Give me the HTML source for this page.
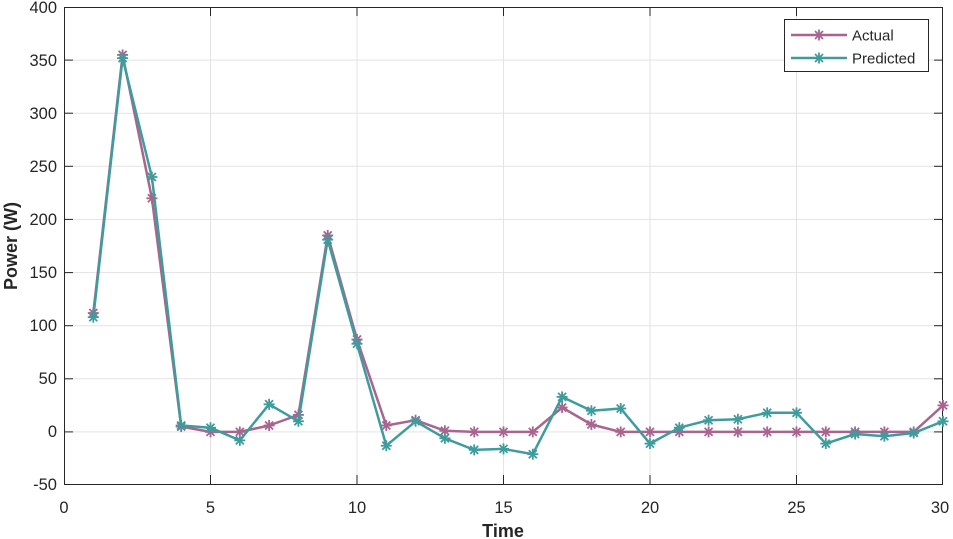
<!DOCTYPE html>
<html><head><meta charset="utf-8"><style>body{margin:0;background:#fff}svg{display:block}text{font-family:"Liberation Sans",Arial,sans-serif;fill:#262626}</style></head><body>
<svg width="953" height="539" viewBox="0 0 953 539">
<defs>
<g id="mA" stroke="#a8658f" stroke-width="1.8"><line x1="-5.5" y1="0" x2="5.5" y2="0"/><line x1="0" y1="-5.5" x2="0" y2="5.5"/><line x1="-4" y1="-4" x2="4" y2="4"/><line x1="-4" y1="4" x2="4" y2="-4"/></g>
<g id="mP" stroke="#3e9c9c" stroke-width="1.8"><line x1="-5.5" y1="0" x2="5.5" y2="0"/><line x1="0" y1="-5.5" x2="0" y2="5.5"/><line x1="-4" y1="-4" x2="4" y2="4"/><line x1="-4" y1="4" x2="4" y2="-4"/></g>
</defs>
<g stroke="#e3e3e3" stroke-width="1">
<line x1="210.5" y1="7" x2="210.5" y2="484"/><line x1="357" y1="7" x2="357" y2="484"/><line x1="503.5" y1="7" x2="503.5" y2="484"/><line x1="650" y1="7" x2="650" y2="484"/><line x1="796.5" y1="7" x2="796.5" y2="484"/>
<line x1="64" y1="60.1" x2="943" y2="60.1"/><line x1="64" y1="113.2" x2="943" y2="113.2"/><line x1="64" y1="166.3" x2="943" y2="166.3"/><line x1="64" y1="219.4" x2="943" y2="219.4"/><line x1="64" y1="272.6" x2="943" y2="272.6"/><line x1="64" y1="325.7" x2="943" y2="325.7"/><line x1="64" y1="378.8" x2="943" y2="378.8"/><line x1="64" y1="431.9" x2="943" y2="431.9"/>
</g>
<rect x="64.5" y="7.5" width="878" height="477" fill="none" stroke="#262626" stroke-width="1"/>
<g stroke="#262626" stroke-width="1">
<line x1="210.5" y1="484" x2="210.5" y2="475"/><line x1="357" y1="484" x2="357" y2="475"/><line x1="503.5" y1="484" x2="503.5" y2="475"/><line x1="650" y1="484" x2="650" y2="475"/><line x1="796.5" y1="484" x2="796.5" y2="475"/>
<line x1="210.5" y1="7" x2="210.5" y2="16"/><line x1="357" y1="7" x2="357" y2="16"/><line x1="503.5" y1="7" x2="503.5" y2="16"/><line x1="650" y1="7" x2="650" y2="16"/><line x1="796.5" y1="7" x2="796.5" y2="16"/>
<line x1="64" y1="60.1" x2="73" y2="60.1"/><line x1="64" y1="113.2" x2="73" y2="113.2"/><line x1="64" y1="166.3" x2="73" y2="166.3"/><line x1="64" y1="219.4" x2="73" y2="219.4"/><line x1="64" y1="272.6" x2="73" y2="272.6"/><line x1="64" y1="325.7" x2="73" y2="325.7"/><line x1="64" y1="378.8" x2="73" y2="378.8"/><line x1="64" y1="431.9" x2="73" y2="431.9"/>
<line x1="943" y1="60.1" x2="934" y2="60.1"/><line x1="943" y1="113.2" x2="934" y2="113.2"/><line x1="943" y1="166.3" x2="934" y2="166.3"/><line x1="943" y1="219.4" x2="934" y2="219.4"/><line x1="943" y1="272.6" x2="934" y2="272.6"/><line x1="943" y1="325.7" x2="934" y2="325.7"/><line x1="943" y1="378.8" x2="934" y2="378.8"/><line x1="943" y1="431.9" x2="934" y2="431.9"/>
</g>
<g font-size="16.5" text-anchor="end">
<text x="57" y="13">400</text><text x="57" y="66">350</text><text x="57" y="119">300</text><text x="57" y="172">250</text><text x="57" y="225">200</text><text x="57" y="278">150</text><text x="57" y="331">100</text><text x="57" y="384">50</text><text x="57" y="437">0</text><text x="57" y="490">-50</text>
</g>
<g font-size="16.5" text-anchor="middle">
<text x="64" y="513">0</text><text x="210.5" y="513">5</text><text x="357" y="513">10</text><text x="503.5" y="513">15</text><text x="650" y="513">20</text><text x="796.5" y="513">25</text><text x="940" y="513">30</text>
</g>
<text x="503" y="537" font-size="18" font-weight="bold" text-anchor="middle">Time</text>
<text transform="translate(17,246) rotate(-90)" font-size="18" font-weight="bold" text-anchor="middle">Power (W)</text>
<polyline fill="none" stroke="#a8658f" stroke-width="2.5" stroke-linejoin="round" points="93.3,313 122.6,54.9 151.9,198.3 181.2,426.6 210.5,431.9 239.8,431.9 269.1,425.5 298.4,414.9 327.7,235.4 357,339.5 386.3,425.5 415.6,420.2 444.9,430.8 474.2,431.9 503.5,431.9 532.8,431.9 562.1,407.5 591.4,424.5 620.7,431.9 650,431.9 679.3,431.9 708.6,431.9 737.9,431.9 767.2,431.9 796.5,431.9 825.8,431.9 855.1,431.9 884.4,431.9 913.7,431.9 943,405.4"/>
<g>
<use href="#mA" x="93.3" y="313"/><use href="#mA" x="122.6" y="54.9"/><use href="#mA" x="151.9" y="198.3"/><use href="#mA" x="181.2" y="426.6"/><use href="#mA" x="210.5" y="431.9"/><use href="#mA" x="239.8" y="431.9"/><use href="#mA" x="269.1" y="425.5"/><use href="#mA" x="298.4" y="414.9"/><use href="#mA" x="327.7" y="235.4"/><use href="#mA" x="357" y="339.5"/><use href="#mA" x="386.3" y="425.5"/><use href="#mA" x="415.6" y="420.2"/><use href="#mA" x="444.9" y="430.8"/><use href="#mA" x="474.2" y="431.9"/><use href="#mA" x="503.5" y="431.9"/><use href="#mA" x="532.8" y="431.9"/><use href="#mA" x="562.1" y="407.5"/><use href="#mA" x="591.4" y="424.5"/><use href="#mA" x="620.7" y="431.9"/><use href="#mA" x="650" y="431.9"/><use href="#mA" x="679.3" y="431.9"/><use href="#mA" x="708.6" y="431.9"/><use href="#mA" x="737.9" y="431.9"/><use href="#mA" x="767.2" y="431.9"/><use href="#mA" x="796.5" y="431.9"/><use href="#mA" x="825.8" y="431.9"/><use href="#mA" x="855.1" y="431.9"/><use href="#mA" x="884.4" y="431.9"/><use href="#mA" x="913.7" y="431.9"/><use href="#mA" x="943" y="405.4"/>
</g>
<polyline fill="none" stroke="#3e9c9c" stroke-width="2.5" stroke-linejoin="round" points="93.3,317.2 122.6,58.1 151.9,177 181.2,425.5 210.5,427.7 239.8,440.4 269.1,404.3 298.4,421.3 327.7,239.7 357,343.8 386.3,445.7 415.6,421.3 444.9,438.3 474.2,449.9 503.5,448.9 532.8,454.2 562.1,396.9 591.4,410.7 620.7,408.5 650,443.6 679.3,427.7 708.6,420.2 737.9,419.2 767.2,412.8 796.5,412.8 825.8,443.6 855.1,434 884.4,436.2 913.7,433 943,421.3"/>
<g>
<use href="#mP" x="93.3" y="317.2"/><use href="#mP" x="122.6" y="58.1"/><use href="#mP" x="151.9" y="177"/><use href="#mP" x="181.2" y="425.5"/><use href="#mP" x="210.5" y="427.7"/><use href="#mP" x="239.8" y="440.4"/><use href="#mP" x="269.1" y="404.3"/><use href="#mP" x="298.4" y="421.3"/><use href="#mP" x="327.7" y="239.7"/><use href="#mP" x="357" y="343.8"/><use href="#mP" x="386.3" y="445.7"/><use href="#mP" x="415.6" y="421.3"/><use href="#mP" x="444.9" y="438.3"/><use href="#mP" x="474.2" y="449.9"/><use href="#mP" x="503.5" y="448.9"/><use href="#mP" x="532.8" y="454.2"/><use href="#mP" x="562.1" y="396.9"/><use href="#mP" x="591.4" y="410.7"/><use href="#mP" x="620.7" y="408.5"/><use href="#mP" x="650" y="443.6"/><use href="#mP" x="679.3" y="427.7"/><use href="#mP" x="708.6" y="420.2"/><use href="#mP" x="737.9" y="419.2"/><use href="#mP" x="767.2" y="412.8"/><use href="#mP" x="796.5" y="412.8"/><use href="#mP" x="825.8" y="443.6"/><use href="#mP" x="855.1" y="434"/><use href="#mP" x="884.4" y="436.2"/><use href="#mP" x="913.7" y="433"/><use href="#mP" x="943" y="421.3"/>
</g>
<rect x="784.5" y="19.5" width="144" height="52" fill="#fff" stroke="#262626" stroke-width="1"/>
<line x1="791" y1="35" x2="847" y2="35" stroke="#a8658f" stroke-width="2.5"/><use href="#mA" x="819" y="35"/>
<line x1="791" y1="58" x2="847" y2="58" stroke="#3e9c9c" stroke-width="2.5"/><use href="#mP" x="819" y="58"/>
<text x="852" y="40.5" font-size="15">Actual</text>
<text x="852" y="63.5" font-size="15">Predicted</text>
</svg>
</body></html>
